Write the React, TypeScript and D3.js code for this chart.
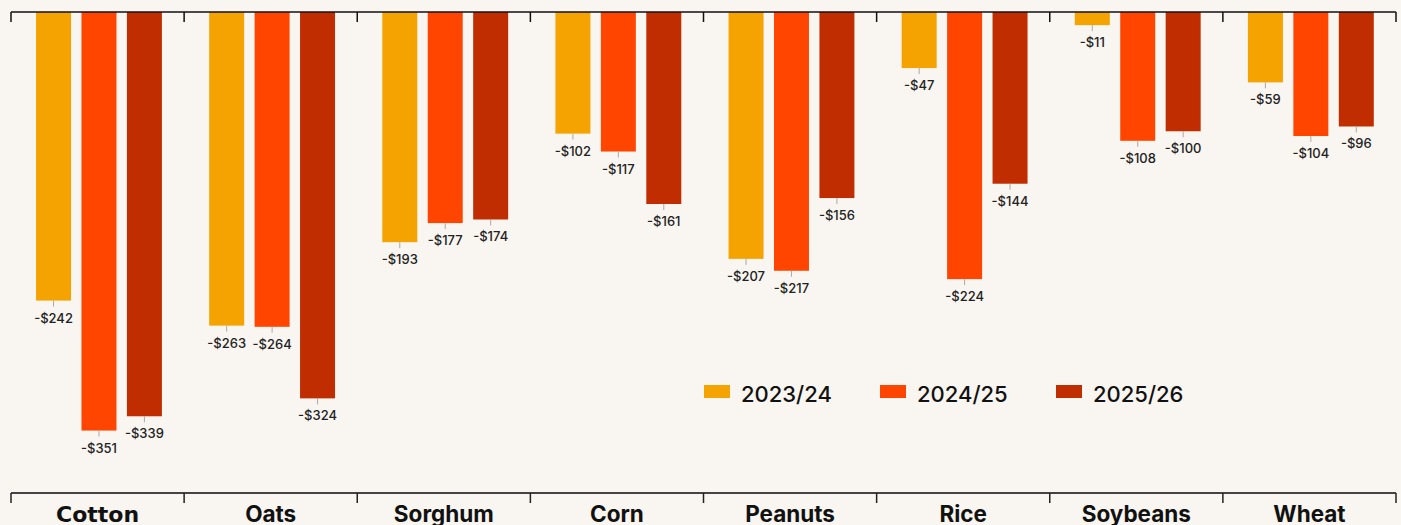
import React, { useEffect, useRef } from 'react'
import * as d3 from 'd3'

const crops = ['Cotton', 'Oats', 'Sorghum', 'Corn', 'Peanuts', 'Rice', 'Soybeans', 'Wheat']
const seasons = ['2023/24', '2024/25', '2025/26']
const values2324 = [-242, -263, -193, -102, -207, -47, -11, -59]
const values2425 = [-351, -264, -177, -117, -217, -224, -108, -104]
const values2526 = [-339, -324, -174, -161, -156, -144, -100, -96]
const seasonColors = ['#f4a300', '#ff4500', '#bf2d00']
const highlighted = 'Cotton'

const App = () => {
  const svgRef = useRef<SVGSVGElement>(null)

  useEffect(() => {
    document.body.style.margin = '0'
    const width = 1401
    const height = 525
    const font = 'Inter, "Noto Sans", sans-serif'

    const svg = d3.select(svgRef.current)
    svg.selectAll('*').remove()
    svg.attr('width', width).attr('height', height)

    svg.append('rect').attr('width', width).attr('height', height).attr('fill', '#f9f5f0')

    const x = d3.scaleBand().domain(crops).range([11, 1396]).padding(0)
    const x1 = d3
      .scaleBand()
      .domain(seasons)
      .range([0, x.bandwidth()])
      .paddingInner(0.23)
      .paddingOuter(0.52)
      .align(0.53)
    const y = d3.scaleLinear().domain([0, -400]).range([12, 489])

    const series = [values2324, values2425, values2526]
    const rows = crops.flatMap((c, i) =>
      seasons.map((s, j) => ({ crop: c, season: s, value: series[j][i], color: seasonColors[j] }))
    )

    // bars
    const g = svg.append('g')
    g.selectAll('rect.bar')
      .data(rows)
      .join('rect')
      .attr('class', 'bar')
      .attr('x', (d) => x(d.crop)! + x1(d.season)!)
      .attr('y', y(0))
      .attr('width', x1.bandwidth())
      .attr('height', (d) => y(d.value) - y(0))
      .attr('fill', (d) => d.color)

    // leader lines + value labels
    g.selectAll('line.lead')
      .data(rows)
      .join('line')
      .attr('class', 'lead')
      .attr('x1', (d) => x(d.crop)! + x1(d.season)! + x1.bandwidth() / 2)
      .attr('x2', (d) => x(d.crop)! + x1(d.season)! + x1.bandwidth() / 2)
      .attr('y1', (d) => y(d.value))
      .attr('y2', (d) => y(d.value) + 6)
      .attr('stroke', '#aaa')
      .attr('stroke-width', 1)

    g.selectAll('text.val')
      .data(rows)
      .join('text')
      .attr('class', 'val')
      .attr('x', (d) => x(d.crop)! + x1(d.season)! + x1.bandwidth() / 2)
      .attr('y', (d) => y(d.value) + 22)
      .attr('text-anchor', 'middle')
      .style('font-family', font)
      .style('font-size', '13px')
      .style('font-weight', 500)
      .style('fill', '#222')
      .text((d) => `-$${Math.abs(d.value)}`)

    const bounds = [...crops.map((c) => x(c)!), x.range()[1]]

    // top axis
    svg.append('line')
      .attr('x1', x.range()[0]).attr('x2', x.range()[1])
      .attr('y1', 12).attr('y2', 12)
      .attr('stroke', '#111').attr('stroke-width', 1.5)
    svg.selectAll('line.ttick')
      .data(bounds)
      .join('line')
      .attr('class', 'ttick')
      .attr('x1', (d) => d).attr('x2', (d) => d)
      .attr('y1', 12).attr('y2', 22)
      .attr('stroke', '#111').attr('stroke-width', 1.5)

    // bottom axis
    svg.append('line')
      .attr('x1', x.range()[0]).attr('x2', x.range()[1])
      .attr('y1', 493).attr('y2', 493)
      .attr('stroke', '#444').attr('stroke-width', 2)
    svg.selectAll('line.btick')
      .data(bounds)
      .join('line')
      .attr('class', 'btick')
      .attr('x1', (d) => d).attr('x2', (d) => d)
      .attr('y1', 493).attr('y2', 503)
      .attr('stroke', '#222').attr('stroke-width', 1.5)
    // the highlighted crop is drawn in a wider face
    svg.selectAll('text.cat')
      .data(crops)
      .join('text')
      .attr('class', 'cat')
      .attr('x', (d) => x(d)! + x.bandwidth() / 2)
      .attr('y', 522)
      .attr('text-anchor', 'middle')
      .style('font-family', (d) => (d === highlighted ? '"DejaVu Sans", sans-serif' : font))
      .style('font-size', (d) => (d === highlighted ? '22px' : '22.5px'))
      .style('font-weight', 700)
      .style('fill', '#111')
      .text((d) => d)

    // legend
    const legend = svg.append('g').attr('transform', 'translate(704, 385)')
    const item = legend
      .selectAll('g')
      .data(seasons)
      .join('g')
      .attr('transform', (_, i) => `translate(${i * 176}, 0)`)
    item.append('rect').attr('width', 26).attr('height', 13).attr('fill', (_, i) => seasonColors[i])
    item.append('text')
      .attr('x', 37)
      .attr('y', 16.5)
      .style('font-family', font)
      .style('font-size', '22px')
      .style('font-weight', 500)
      .style('fill', '#111')
      .text((d) => d)
  }, [])

  return <svg ref={svgRef} style={{ display: 'block' }}></svg>
}

export default App
